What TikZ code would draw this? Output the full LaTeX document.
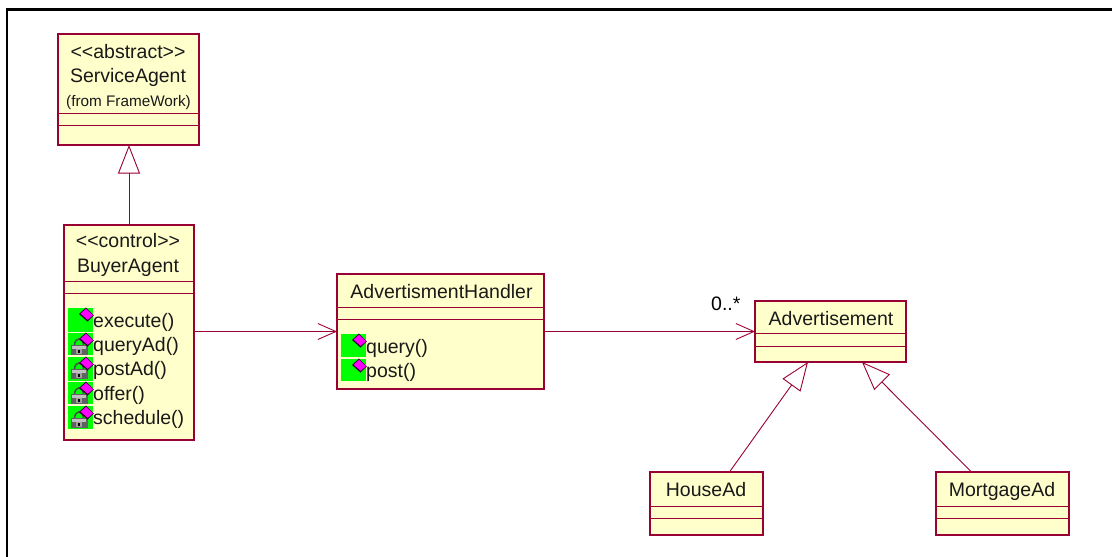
\documentclass[tikz,border=0pt]{standalone}
\usepackage{fontspec}
\setmainfont{Liberation Sans}
\usetikzlibrary{arrows.meta,calc}
\definecolor{umlline}{HTML}{990033}
\definecolor{umlfill}{HTML}{FFFFCC}
\definecolor{icongreen}{HTML}{00FF00}
\definecolor{iconmag}{HTML}{FF00FF}
\definecolor{icondark}{HTML}{330033}
\tikzset{
  x=1pt,y=-1pt,
  classbox/.style={draw=umlline,fill=umlfill,line width=1.15pt,rectangle,inner sep=0pt,outer sep=0pt,anchor=north west},
  divider/.style={draw=umlline,line width=0.9pt},
  txt/.style={font=\fontsize{19.5}{20}\selectfont,text=black!90,inner sep=0pt,anchor=base},
  txtl/.style={txt,anchor=base west},
  small/.style={font=\fontsize{15.3}{16}\selectfont,text=black!90,inner sep=0pt,anchor=base},
  assoc/.style={draw=umlline,line width=0.9pt,-{Straight Barb[length=18pt,width=16pt,line width=0.9pt]}},
  gen/.style={draw=umlline,line width=0.9pt,-{Triangle[open,length=28.5pt,width=22pt,fill=white,line width=0.9pt]}},
  pics/greenbox/.style={code={
    \fill[icongreen] (0,0) rectangle (25,#1);
  }},
  pics/gem/.style={code={
    \fill[icondark] (18,-0.5) -- (25.8,7.5) -- (19.5,13.6) -- (11,6) -- cycle;
    \fill[iconmag] (18,0.8) -- (25,7.2) -- (19.7,11.8) -- (12.6,5.6) -- cycle;
  }},
  pics/lock/.style={code={
    \draw[black!70,line width=1.5pt] (6.5,13) .. controls (6.5,3.5) and (15.5,3.5) .. (15.5,13);
    \fill[black!62] (2.5,12) rectangle (19.5,21.5);
    \fill[black!25] (4,13) rectangle (18,15.5);
    \fill[black!38] (8,16) rectangle (14,20.5);
    \fill[black] (10,17) rectangle (12,19.5);
  }},
}
\newcommand{\umlclass}[7]{% name,x0,y0,x1,y1,div1,div2
  \node[classbox,minimum width=#4pt-#2pt,minimum height=#5pt-#3pt] (#1) at (#2,#3) {};
  \draw[divider] (#2,#6) -- (#4,#6);
  \draw[divider] (#2,#7) -- (#4,#7);
}
\begin{document}
\begin{tikzpicture}
\useasboundingbox (0,0) rectangle (1112,557);
\fill[white] (0,0) rectangle (1112,557);
\draw[black,line width=2.2pt] (7,570) -- (7,9.5) -- (1125,9.5);

\umlclass{ServiceAgent}{58}{34}{199}{145}{113}{125}
\umlclass{BuyerAgent}{64}{225}{194}{440}{281}{293}
\umlclass{Handler}{337}{274}{544}{389}{307}{319}
\umlclass{Advertisement}{755}{301}{906}{362}{333}{346}
\umlclass{HouseAd}{650}{472}{763}{535}{506}{518}
\umlclass{MortgageAd}{936}{472}{1069}{535}{506}{518}

\node[txt] (t1) at (128,58) {<{}<abstract>{}>};
\node[txt] (t2) at (128,82) {ServiceAgent};
\node[small] (t3) at (128.5,106) {(from FrameWork)};
\node[txt] (t4) at (128,247) {<{}<control>{}>};
\node[txt] (t5) at (128,272) {BuyerAgent};

\pic at (68,308) {greenbox=24};
\pic at (68,333) {greenbox=22};
\pic at (68,357) {greenbox=24};
\pic at (68,382) {greenbox=22};
\pic at (68,406) {greenbox=23};
\pic at (68,333) {lock};
\pic at (68,357) {lock};
\pic at (68,382) {lock};
\pic at (68,406) {lock};
\pic at (68,308) {gem};
\pic at (68,333) {gem};
\pic at (68,357) {gem};
\pic at (68,382) {gem};
\pic at (68,406) {gem};
\node[txtl] (m1) at (93,327) {execute()};
\node[txtl] (m2) at (93,351) {queryAd()};
\node[txtl] (m3) at (93,375.5) {postAd()};
\node[txtl] (m4) at (93,400) {offer()};
\node[txtl] (m5) at (93,424) {schedule()};

\node[txt] (t6) at (441.5,298) {AdvertismentHandler};
\pic at (341,334) {greenbox=23};
\pic at (341,359) {greenbox=22};
\pic at (341,334) {gem};
\pic at (341,359) {gem};
\node[txtl] (m6) at (366,353) {query()};
\node[txtl] (m7) at (366,377) {post()};

\node[txt] (t7) at (831,325) {Advertisement};
\node[txt] (t8) at (706,496) {HouseAd};
\node[txt] (t9) at (1002,496) {MortgageAd};
\node[txt,text=black,anchor=base west] (mult) at (711,310) {0..*};

\draw[gen] (BuyerAgent.north) -- (BuyerAgent.north |- ServiceAgent.south);
\draw[assoc] (BuyerAgent.east |- Handler.west) -- (Handler.west);
\draw[assoc] (Handler.east) -- (Advertisement.west);
\draw[gen] ([xshift=23pt]HouseAd.north) -- ([xshift=-22.5pt]Advertisement.south);
\draw[gen] ([xshift=-31pt]MortgageAd.north) -- ([xshift=31.5pt]Advertisement.south);
\end{tikzpicture}
\end{document}
